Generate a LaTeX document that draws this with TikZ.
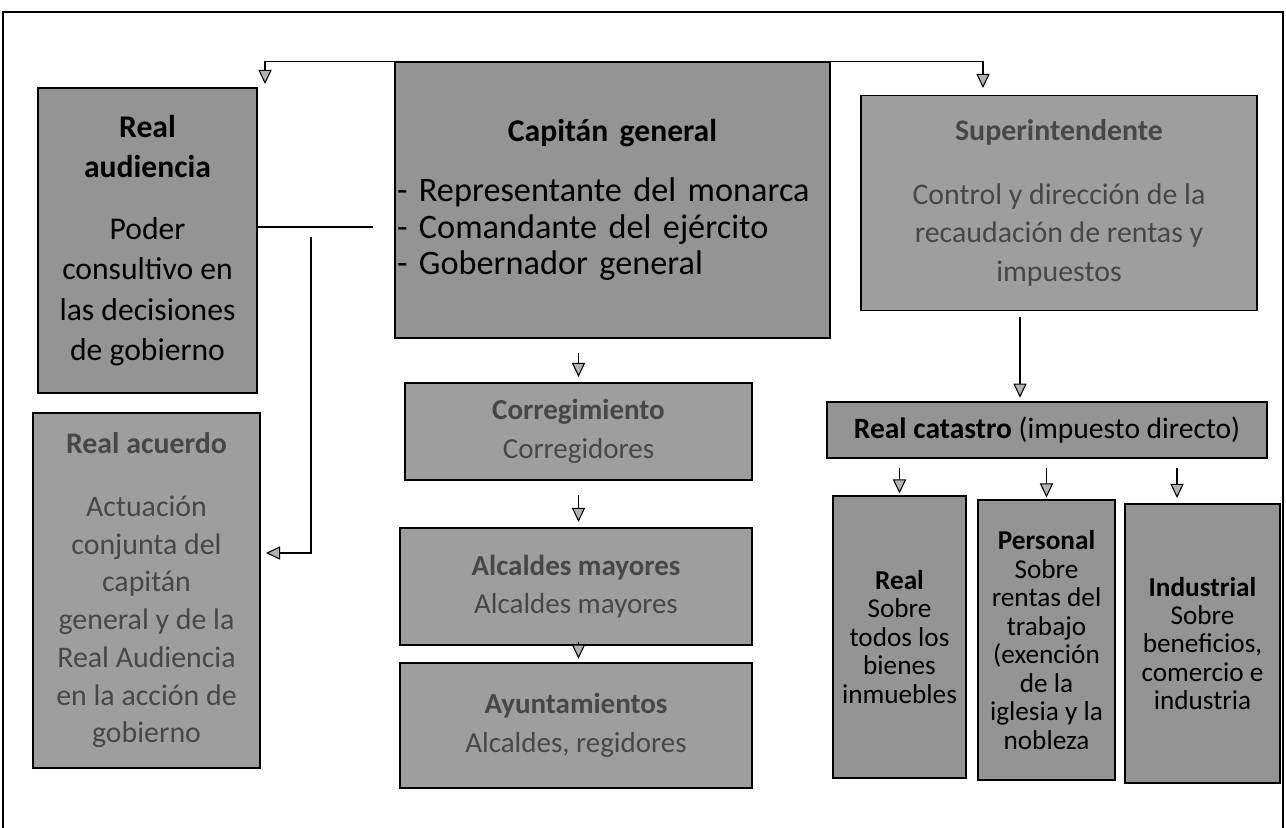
\documentclass[tikz,border=0pt]{standalone}
\usepackage{fontspec}
\setmainfont{Carlito}
\usetikzlibrary{arrows.meta}
\tikzset{
	caja/.style={draw=black, line width=0.9pt, fill=black!42, align=center, inner sep=2pt},
	trama/.style={caja, fill=black!38, text=black!72},
	flecha/.style={line width=0.6pt, -{Triangle[length=8pt,width=7.5pt,fill=black!30]}},
	media/.style={font=\fontsize{16.5}{22}\selectfont},
	chica/.style={font=\fontsize{15.5}{16.2}\selectfont}
}

\begin{document}
\begin{tikzpicture}[x=0.02cm, y=-0.02cm]
	\useasboundingbox (0,0) rectangle (1286,828);
	\draw[line width=0.8pt] (3,828) -- (3,12) -- (1283,12) -- (1283,828);
	
	\node[caja, font=\fontsize{18}{23}\selectfont, minimum width=4.38cm, minimum height=6.1cm] (ra) at (147.5,240.5)
		{\textbf{Real}\\\textbf{audiencia}\\[12pt]Poder\\consultivo en\\las decisiones\\de gobierno};
	\node[caja, minimum width=8.7cm, minimum height=5.52cm, text width=8.62cm, inner sep=1pt, align=left,
		font=\fontsize{19.5}{21}\selectfont] (cg) at (612.5,200)
		{{\centering\fontsize{18}{21}\selectfont\bfseries Capitán general\par}\vspace{13pt}- Representante del monarca\\- Comandante del ejército\\- Gobernador general};
	\node[trama, font=\fontsize{17}{22}\selectfont, minimum width=7.92cm, minimum height=4.3cm] (si) at (1059,203)
		{\textbf{Superintendente}\\[14pt]Control y dirección de la\\recaudación de rentas y\\impuestos};
	
	\node[trama, font=\fontsize{17}{21.5}\selectfont, minimum width=4.54cm, minimum height=7.1cm] (rac) at (146.5,590.5)
		{\textbf{Real acuerdo}\\[14pt]Actuación\\conjunta del\\capitán\\general y de la\\Real Audiencia\\en la acción de\\gobierno};
	\node[trama, media, minimum width=6.94cm, minimum height=1.94cm] (cor) at (578.5,431.5)
		{\textbf{Corregimiento}\\Corregidores};
	\node[trama, media, minimum width=7.04cm, minimum height=2.34cm] (alc) at (576,586.5)
		{\textbf{Alcaldes mayores}\\Alcaldes mayores};
	\node[trama, media, minimum width=7.04cm, minimum height=2.5cm] (ayu) at (576,725.5)
		{\textbf{Ayuntamientos}\\Alcaldes, regidores};
	
	\node[caja, font=\fontsize{16.8}{19}\selectfont, minimum width=8.8cm, minimum height=1.12cm] (rc) at (1047,430)
		{\textbf{Real catastro} (impuesto directo)};
	\node[caja, chica, minimum width=2.66cm, minimum height=5.64cm] (rl) at (899.5,637)
		{\textbf{Real}\\Sobre\\todos los\\bienes\\inmuebles};
	\node[caja, chica, minimum width=2.74cm, minimum height=5.6cm] (pe) at (1046.5,640)
		{\textbf{Personal}\\Sobre\\rentas del\\trabajo\\(exención\\de la\\iglesia y la\\nobleza};
	\node[caja, chica, minimum width=3.1cm, minimum height=5.58cm] (in) at (1202.5,643.5)
		{\textbf{Industrial}\\Sobre\\beneficios,\\comercio e\\industria};
	
	\coordinate (raIn) at (265,84);
	\coordinate (siIn) at (983,88);
	\coordinate (lnk) at (373,227);
	\coordinate (vtop) at (311,237);
	\coordinate (racIn) at (266,553);
	\coordinate (sx) at (1020,0);
	\coordinate (ix) at (1177,0);
	
	\draw[flecha] (cg.north west) -| (raIn);
	\draw[flecha] (cg.north east) -| (siIn);
	\draw[line width=0.6pt] (ra.east |- lnk) -- (lnk);
	\draw[flecha] (vtop) |- (racIn);
	\draw[flecha, shorten <=8pt, shorten >=3pt] (cg.south -| cor.north) -- (cor.north);
	\draw[flecha, shorten <=8pt, shorten >=3pt] (cor.south) -- (cor.south |- alc.north);
	\draw[flecha, shorten <=2pt, shorten >=2pt] (alc.south -| cor.south) -- (ayu.north -| cor.south);
	\draw[flecha, shorten <=3pt, shorten >=2pt] (si.south -| sx) -- (rc.north -| sx);
	\draw[flecha, shorten <=5pt, shorten >=1pt] (rc.south -| rl.north) -- (rl.north);
	\draw[flecha, shorten <=5pt, shorten >=1pt] (rc.south -| pe.north) -- (pe.north);
	\draw[flecha, shorten <=5pt, shorten >=3pt] (rc.south -| ix) -- (in.north -| ix);
\end{tikzpicture}
\end{document}
